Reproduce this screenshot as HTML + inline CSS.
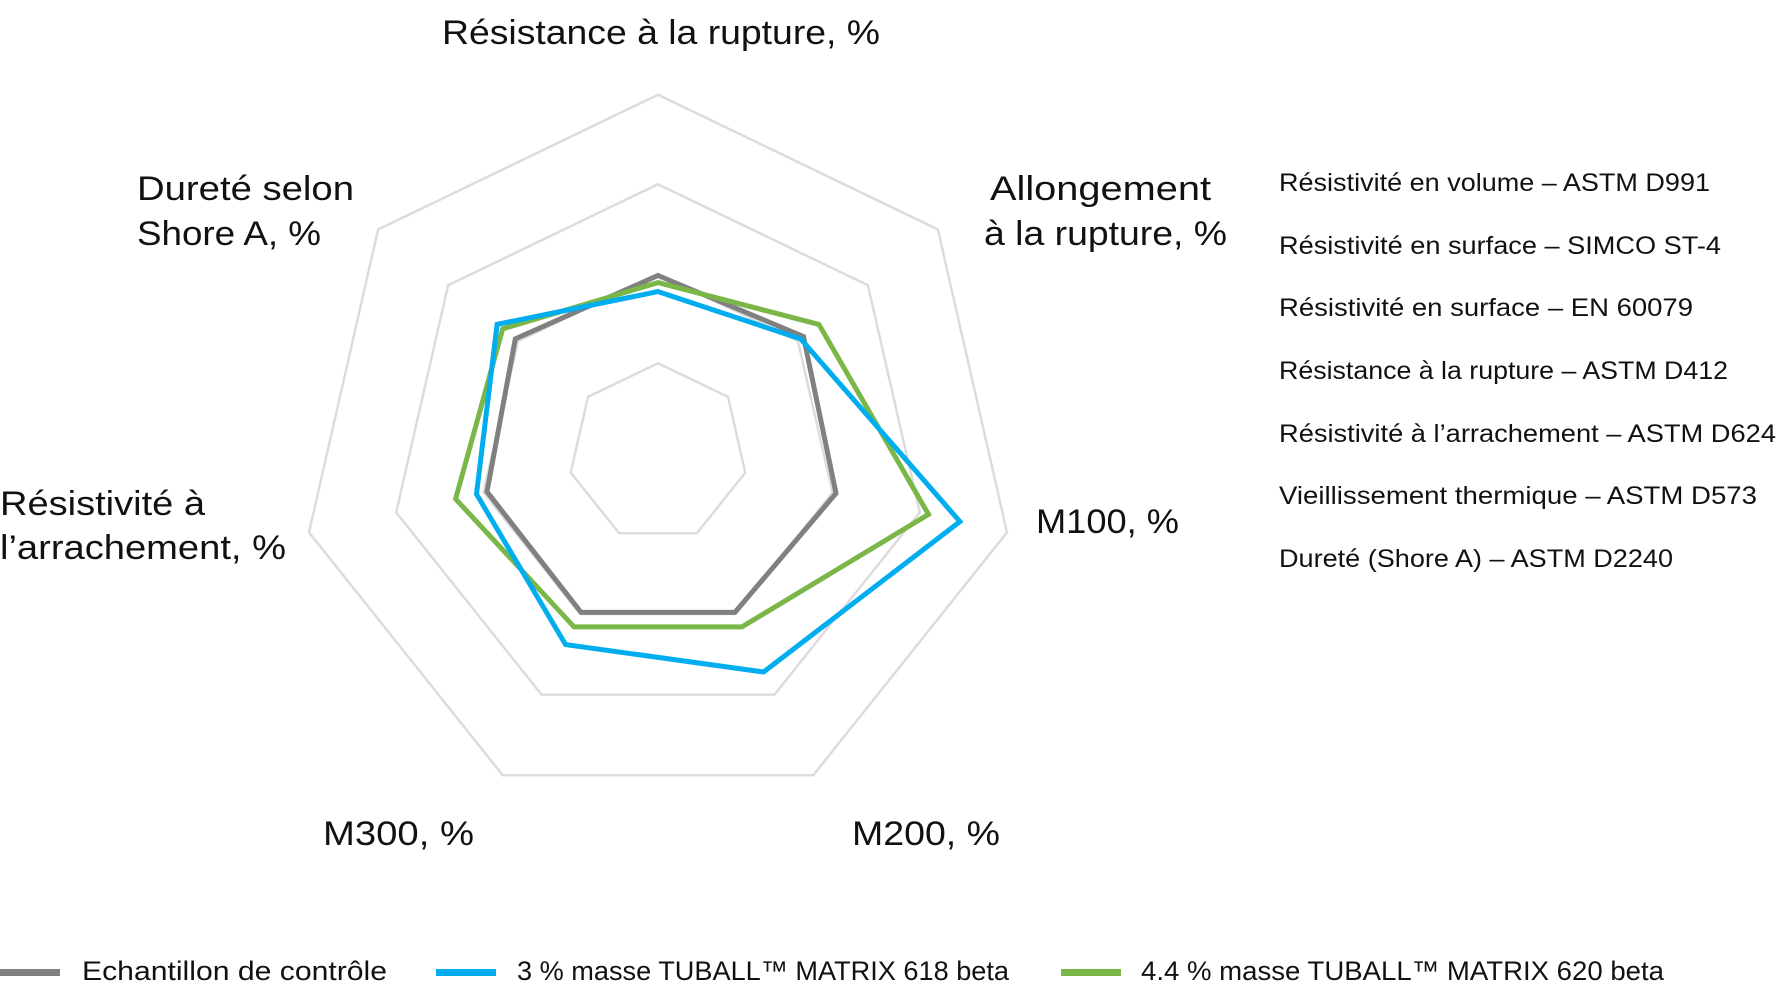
<!DOCTYPE html>
<html><head><meta charset="utf-8"><style>
html,body{margin:0;padding:0;background:#fff;}
svg{display:block;font-family:"Liberation Sans",Arial,sans-serif;}
</style></head><body>
<svg id="chart" width="1776" height="984" viewBox="0 0 1776 984" xmlns="http://www.w3.org/2000/svg">
<g id="grid"></g>
<g id="series"></g>
<g font-size="34" fill="#111">
<text x="442" y="44" textLength="438" lengthAdjust="spacingAndGlyphs">Résistance à la rupture, %</text>
<text x="990" y="200" textLength="221" lengthAdjust="spacingAndGlyphs">Allongement</text>
<text x="984" y="245" textLength="243" lengthAdjust="spacingAndGlyphs">à la rupture, %</text>
<text x="1036" y="533" textLength="143" lengthAdjust="spacingAndGlyphs">M100, %</text>
<text x="852" y="845" textLength="148" lengthAdjust="spacingAndGlyphs">M200, %</text>
<text x="323" y="845" textLength="151" lengthAdjust="spacingAndGlyphs">M300, %</text>
<text x="0" y="515" textLength="205" lengthAdjust="spacingAndGlyphs">Résistivité à</text>
<text x="0" y="559" textLength="286" lengthAdjust="spacingAndGlyphs">l’arrachement, %</text>
<text x="137" y="200" textLength="217" lengthAdjust="spacingAndGlyphs">Dureté selon</text>
<text x="137" y="245" textLength="184" lengthAdjust="spacingAndGlyphs">Shore A, %</text>
</g>
<g font-size="25" fill="#111">
<text x="1279" y="191" textLength="431" lengthAdjust="spacingAndGlyphs">Résistivité en volume – ASTM D991</text>
<text x="1279" y="254" textLength="442" lengthAdjust="spacingAndGlyphs">Résistivité en surface – SIMCO ST-4</text>
<text x="1279" y="316" textLength="414" lengthAdjust="spacingAndGlyphs">Résistivité en surface – EN 60079</text>
<text x="1279" y="379" textLength="449" lengthAdjust="spacingAndGlyphs">Résistance à la rupture – ASTM D412</text>
<text x="1279" y="442" textLength="497" lengthAdjust="spacingAndGlyphs">Résistivité à l’arrachement – ASTM D624</text>
<text x="1279" y="504" textLength="478" lengthAdjust="spacingAndGlyphs">Vieillissement thermique – ASTM D573</text>
<text x="1279" y="567" textLength="394" lengthAdjust="spacingAndGlyphs">Dureté (Shore A) – ASTM D2240</text>
</g>
<g font-size="27" fill="#111">
<g>
<rect x="0" y="969" width="60" height="7" fill="#808080"/>
<text x="82" y="980" textLength="305" lengthAdjust="spacingAndGlyphs">Echantillon de contrôle</text></g>
<g>
<rect x="436" y="969" width="60" height="7" fill="#00aeef"/>
<text x="517" y="980" textLength="492" lengthAdjust="spacingAndGlyphs">3 % masse TUBALL™ MATRIX 618 beta</text></g>
<g>
<rect x="1061" y="969" width="60" height="7" fill="#7ab648"/>
<text x="1141" y="980" textLength="523" lengthAdjust="spacingAndGlyphs">4.4 % masse TUBALL™ MATRIX 620 beta</text></g>
</g>
</svg>
<script>
const categories = ["Résistance à la rupture","Allongement à la rupture","M100","M200","M300","Résistivité à l'arrachement","Dureté selon Shore A"];
const gridLevels = [50, 100, 150, 200];
const controlValues = [99, 104, 102, 99, 99, 98, 102];
const matrix618Values = [90, 102, 173, 136, 119, 104, 115];
const matrix620Values = [95, 115, 155, 108, 108, 116, 111];
const maxValue = 200;

const NS = "http://www.w3.org/2000/svg";
const cx = 658, cy = 452.7, R = 358;
function angleFor(i){ return (-90 + i * 360 / categories.length) * Math.PI / 180; }
function rScale(v){ return v / maxValue * R; }
function pointFor(i, v){ const a = angleFor(i), r = rScale(v); return [cx + r*Math.cos(a), cy + r*Math.sin(a)]; }
function polyPoints(vals){ return vals.map((v,i)=>pointFor(i,v).map(n=>n.toFixed(1)).join(",")).join(" "); }

const grid = document.getElementById("grid");
gridLevels.forEach(function(lv){
  const p = document.createElementNS(NS, "polygon");
  
  
  p.setAttribute("points", polyPoints(categories.map(()=>lv)));
  p.setAttribute("fill", "none");
  p.setAttribute("stroke", "#dcdcdc");
  p.setAttribute("stroke-width", "2.5");
  grid.appendChild(p);
});

const seriesG = document.getElementById("series");
const seriesList = [
  {name:"series-control", vals:controlValues, color:"#808080"},
  {name:"series-matrix-620", vals:matrix620Values, color:"#7ab648"},
  {name:"series-matrix-618", vals:matrix618Values, color:"#00aeef"}
];
seriesList.forEach(function(s){
  const p = document.createElementNS(NS, "polygon");
  
  
  p.setAttribute("points", polyPoints(s.vals));
  p.setAttribute("fill", "none");
  p.setAttribute("stroke", s.color);
  p.setAttribute("stroke-width", "5");
  p.setAttribute("stroke-linejoin", "miter");
  seriesG.appendChild(p);
});
</script>
</body></html>
